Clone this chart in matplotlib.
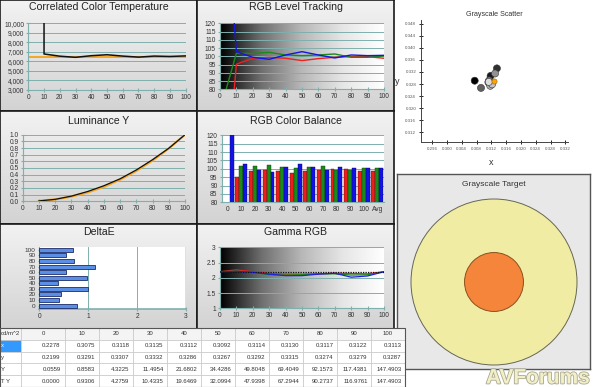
import matplotlib.pyplot as plt
import numpy as np
from matplotlib.colors import LinearSegmentedColormap
from matplotlib.patches import Circle
import matplotlib.patheffects as pe

plt.rcParams['font.family'] = ['Liberation Sans', 'DejaVu Sans']

# ---- data ----
levels = [0, 10, 20, 30, 40, 50, 60, 70, 80, 90, 100]

cct_levels = [10, 10, 20, 30, 40, 50, 60, 70, 80, 90, 100]
cct_measured = [10500, 6780, 6550, 6430, 6600, 6700, 6560, 6450, 6560, 6520, 6580]
cct_target = 6500

red_level = [-20, 95.2, 98.8, 99.4, 98.8, 97.4, 98.6, 99.4, 99.8, 99.8, 98.8]
green_level = [67, 101.8, 101.8, 102.4, 100.8, 100.4, 100.8, 101.4, 99.4, 99.4, 100.2]
blue_level = [237, 102.8, 99.4, 98.2, 100.8, 102.8, 100.8, 99.0, 100.8, 100.4, 100.6]
balance_avg = [98.5, 100.5, 100.5]
balance_labels = ['0', '10', '20', '30', '40', '50', '60', '70', '80', '90', '100', 'Avg']

deltae = [0.77, 0.40, 0.45, 1.00, 0.38, 0.98, 0.55, 1.13, 0.70, 0.55, 0.68]

gamma_red = [2.20, 2.26, 2.20, 2.14, 2.12, 2.12, 2.13, 2.15, 2.14, 2.13, 2.20]
gamma_green = [2.20, 2.22, 2.18, 2.10, 2.09, 2.10, 2.13, 2.13, 2.09, 2.10, 2.20]
gamma_blue = [2.20, 2.21, 2.18, 2.12, 2.07, 2.07, 2.12, 2.15, 2.02, 2.06, 2.20]
gamma_target = 2.2

meas_x = [0.2278, 0.3075, 0.3118, 0.3135, 0.3112, 0.3092, 0.3114, 0.3130, 0.3117, 0.3122, 0.3113]
meas_y = [0.2199, 0.3291, 0.3307, 0.3332, 0.3286, 0.3267, 0.3292, 0.3315, 0.3274, 0.3279, 0.3287]
meas_Y = [0.0559, 0.8583, 4.3225, 11.4954, 21.6802, 34.4286, 49.8048, 69.4049, 92.1573, 117.4381, 147.4903]
target_Y = [0.0000, 0.9306, 4.2759, 10.4335, 19.6469, 32.0994, 47.9398, 67.2944, 90.2737, 116.9761, 147.4903]
white_x, white_y = 0.3127, 0.3290

target_outer = 1.0
target_inner = 0.355

W, H = 600, 387
teal = '#7fb0ae'
fig = plt.figure(figsize=(6, 3.87), dpi=100, facecolor='white')


def px(x0, y0, x1, y1):
    return [x0 / W, 1 - y1 / H, (x1 - x0) / W, (y1 - y0) / H]


shade = LinearSegmentedColormap.from_list('shade', ['#f2f2f2', '#d3d3d3'])
ramp = LinearSegmentedColormap.from_list('ramp', ['#000000', '#6e6e6e', '#b8b8b8', '#e6e6e6', '#ffffff'])


def panel(box, title, ty):
    bg = fig.add_axes(px(*box), zorder=0)
    bg.imshow(np.linspace(0, 1, 64).reshape(-1, 1), aspect='auto', cmap=shade, extent=[0, 1, 0, 1])
    bg.set_xticks([]); bg.set_yticks([])
    for s in bg.spines.values():
        s.set_color('#1a1a1a'); s.set_linewidth(1.2)
    fig.text((box[0] + box[2]) / 2 / W, 1 - ty / H, title, ha='center', va='center',
             fontsize=7.6, color='#222222')


def plot_ax(box, transparent=True):
    ax = fig.add_axes(px(*box), zorder=2)
    if transparent:
        ax.patch.set_alpha(0)
    for s in ['top', 'right']:
        ax.spines[s].set_visible(False)
    for s in ['left', 'bottom']:
        ax.spines[s].set_color(teal)
    ax.tick_params(direction='inout', length=3, color=teal, labelsize=4.8,
                   labelcolor='#333333', pad=1.5, width=0.8)
    return ax


def gradient_bg(ax, x0, x1, y0, y1):
    ax.imshow(np.linspace(0, 1, 256).reshape(1, -1), aspect='auto', cmap=ramp,
              extent=[x0, x1, y0, y1], zorder=0)


# ---- Correlated Color Temperature ----
panel((0, 0, 197, 111), 'Correlated Color Temperature', 7.5)
ax = plot_ax((28.3, 23.3, 185.7, 90))
ax.axhline(cct_target, color='#f5a623', lw=1.4, zorder=2)
ax.plot(cct_levels, cct_measured, color='#111111', lw=1.1, zorder=3)
ax.set_xlim(0, 100); ax.set_ylim(3000, 10000)
ax.set_xticks(range(0, 101, 10))
ax.set_yticks(range(3000, 10001, 1000))
ax.set_yticklabels([f'{v:,}' for v in range(3000, 10001, 1000)])
ax.grid(axis='y', color=teal, lw=0.7)

# ---- RGB Level Tracking ----
panel((197, 0, 394, 111), 'RGB Level Tracking', 7.5)
ax = plot_ax((220, 23.3, 384, 89.3))
gradient_bg(ax, 0, 100, 80, 120)
ax.plot(levels, red_level, color='#ee2020', lw=1.0, zorder=3)
ax.plot(levels, green_level, color='#1a8a1a', lw=1.0, zorder=3)
ax.plot(levels, blue_level, color='#1515e0', lw=1.0, zorder=3)
ax.set_xlim(0, 100); ax.set_ylim(80, 120)
ax.set_xticks(range(0, 101, 10)); ax.set_yticks(range(80, 121, 5))
ax.grid(axis='y', color=teal, lw=0.7, zorder=1)

# ---- Luminance Y ----
panel((0, 111, 197, 224), 'Luminance Y', 120.7)
ax = plot_ax((22.7, 134.7, 185, 201.3))
lum = [v / meas_Y[-1] for v in meas_Y]
tlum = [v / target_Y[-1] for v in target_Y]
ax.plot(levels[1:], tlum[1:], color='#f5a623', lw=1.6, zorder=2)
ax.plot(levels[1:], lum[1:], color='#111111', lw=0.9, zorder=3)
ax.set_xlim(0, 100); ax.set_ylim(0, 1.0)
ax.set_xticks(range(0, 101, 10))
ax.set_yticks(np.arange(0, 1.01, 0.1))
ax.set_yticklabels([f'{v:.1f}' for v in np.arange(0, 1.01, 0.1)])
ax.grid(axis='y', color=teal, lw=0.7)

# ---- RGB Color Balance ----
panel((197, 111, 394, 224), 'RGB Color Balance', 120.5)
ax = plot_ax((221.7, 135.3, 384, 202.3), transparent=False)
bal_r = red_level + [balance_avg[0]]
bal_g = green_level + [balance_avg[1]]
bal_b = blue_level + [balance_avg[2]]
pos = np.arange(len(balance_labels))
bw = 0.29
ax.bar(pos - bw, bal_r, bw, color='#ee1c1c', edgecolor='#551010', lw=0.3, zorder=3)
ax.bar(pos, bal_g, bw, color='#1a8a1a', edgecolor='#0d3d0d', lw=0.3, zorder=3)
ax.bar(pos + bw, bal_b, bw, color='#1212e8', edgecolor='#0a0a55', lw=0.3, zorder=3)
ax.set_xlim(-0.45, 11.5); ax.set_ylim(80, 120)
ax.set_xticks(pos); ax.set_xticklabels(balance_labels)
ax.tick_params(axis='x', length=0, pad=3)
ax.set_yticks(range(80, 121, 5))
ax.grid(axis='y', color=teal, lw=0.7, zorder=1)

# ---- DeltaE ----
panel((0, 224, 197, 330), 'DeltaE', 231.7)
ax = plot_ax((39.3, 247.3, 186, 309), transparent=False)
ypos = np.arange(len(levels))
ax.barh(ypos, deltae, 0.72, color='#5b8fe6', edgecolor='#1c2c66', lw=0.6, zorder=3)
ax.set_xlim(0, 3); ax.set_ylim(-0.6, 10.45)
ax.set_xticks([0, 1, 2, 3])
ax.set_yticks(ypos); ax.set_yticklabels([str(v) for v in levels])
ax.tick_params(axis='y', labelsize=4.6, length=2)
ax.axvline(3, color='#e03030', lw=1.0, zorder=4)
ax.grid(axis='x', color=teal, lw=0.7, zorder=1)
ax.spines['bottom'].set_linewidth(1.2)

# ---- Gamma RGB ----
panel((197, 224, 394, 330), 'Gamma RGB', 231.7)
ax = plot_ax((220, 247.3, 384, 308.3))
gradient_bg(ax, 0, 100, 1, 3)
ax.plot(levels, gamma_red, color='#ee2020', lw=0.9, zorder=3)
ax.plot(levels, gamma_green, color='#1a8a1a', lw=0.9, zorder=3)
ax.plot(levels, gamma_blue, color='#2020e0', lw=0.9, zorder=3)
ax.axhline(gamma_target, color='#111111', lw=0.9, ls=(0, (1, 1)), zorder=4)
ax.set_xlim(0, 100); ax.set_ylim(1, 3)
ax.set_xticks(range(0, 101, 10))
ax.set_yticks([1, 1.5, 2, 2.5, 3]); ax.set_yticklabels(['1', '1.5', '2', '2.5', '3'])
ax.grid(axis='y', color=teal, lw=0.7, zorder=1)

# ---- Grayscale Scatter ----
ax = fig.add_axes(px(421, 20, 568, 142))
for s in ['top', 'right']:
    ax.spines[s].set_visible(False)
for s in ['left', 'bottom']:
    ax.spines[s].set_color('#444444'); ax.spines[s].set_linewidth(0.7)
shades = [plt.cm.gray((lv - 10) / 105) for lv in levels[1:]]
ax.scatter(meas_x[1:], meas_y[1:], s=26, c=shades, edgecolors='#333333', linewidths=0.4, zorder=3)
ax.scatter([white_x], [white_y], s=14, c='#ffa500', edgecolors='#a06000', linewidths=0.4, zorder=4)
ax.set_xlim(0.293, 0.3327); ax.set_ylim(0.3087, 0.3493)
ax.set_xticks(np.arange(0.296, 0.3325, 0.004))
ax.set_yticks(np.arange(0.312, 0.3485, 0.004))
ax.xaxis.set_major_formatter(plt.FormatStrFormatter('%.3f'))
ax.yaxis.set_major_formatter(plt.FormatStrFormatter('%.3f'))
ax.tick_params(direction='inout', length=3, labelsize=3.2, labelcolor='#555555', pad=2, width=0.6)
fig.text(494 / W, 1 - 14.5 / H, 'Grayscale Scatter', ha='center', va='center', fontsize=5.1, color='#333333')
fig.text(491 / W, 1 - 163 / H, 'x', ha='center', va='center', fontsize=6.5, color='#333333')
fig.text(397 / W, 1 - 81 / H, 'y', ha='center', va='center', fontsize=6.5, color='#333333')

# ---- Grayscale Target ----
ax = fig.add_axes(px(397, 174, 590, 369))
ax.set_facecolor('#e8e8e8')
ax.set_xticks([]); ax.set_yticks([])
for s in ax.spines.values():
    s.set_color('#555555'); s.set_linewidth(1.0)
ax.add_patch(Circle((0, 0), target_outer, facecolor='#f0eca4', edgecolor='#666655', lw=0.7))
ax.add_patch(Circle((0, 0), target_inner, facecolor='#f5853a', edgecolor='#8a5020', lw=0.7))
ax.set_xlim(-97 / 83, 96 / 83); ax.set_ylim(-87 / 83, 108 / 83)
ax.text(0.5, 0.945, 'Grayscale Target', transform=ax.transAxes, ha='center', va='center',
        fontsize=6, color='#333333')

# ---- table ----
ax = fig.add_axes(px(0, 328, 405, 387), zorder=5)
ax.axis('off')
header = ['cd/m^2'] + [str(v) for v in levels]
rows = [['x'] + [f'{v:.4f}' for v in meas_x],
        ['y'] + [f'{v:.4f}' for v in meas_y],
        ['Y'] + [f'{v:.4f}' for v in meas_Y],
        ['T Y'] + [f'{v:.4f}' for v in target_Y]]
widths = [21, 44] + [34] * 10
widths = [w / sum(widths) for w in widths]
tb = ax.table(cellText=[header] + rows, colWidths=widths, bbox=[0, 0, 1, 1], cellLoc='right')
tb.auto_set_font_size(False)
for (r, c), cell in tb.get_celld().items():
    cell.set_fontsize(4.3)
    cell.set_edgecolor('#c8c8c8')
    cell.set_linewidth(0.5)
    cell.get_text().set_color('#333333')
    if r == 0:
        cell.set_facecolor('#f4f4f4')
        cell.get_text().set_ha('center' if c > 0 else 'left')
    if c == 0:
        cell.get_text().set_ha('left')
        cell.PAD = 0.05
    if r == 1 and c == 0:
        cell.set_facecolor('#3399ff')
        cell.get_text().set_color('white')
ax.add_patch(plt.Rectangle((0, 0), 1, 1, transform=ax.transAxes, fill=False,
                           edgecolor='#555555', lw=0.8, clip_on=False))

# ---- watermark ----
fig.text(538 / W, 1 - 378 / H, 'AVForums', ha='center', va='center', fontsize=15, weight='bold',
         color='#f3efc8', path_effects=[pe.withStroke(linewidth=1.2, foreground='#a8a890')])

plt.savefig('out.png', dpi=100, facecolor='white')
